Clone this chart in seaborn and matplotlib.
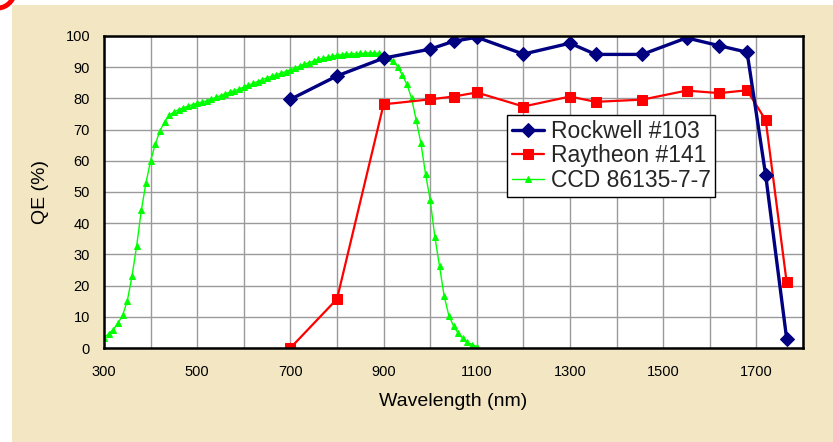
import numpy as np
import pandas as pd
import matplotlib
matplotlib.use("Agg")
import matplotlib.pyplot as plt
from matplotlib.patches import Rectangle, Arc
import seaborn as sns

# ---------------- data ----------------
rockwell_wl = [700, 800, 900, 1000, 1050, 1100, 1200, 1300, 1355, 1455, 1550, 1620, 1680, 1720, 1765]
rockwell_qe = [79.7, 87.2, 92.9, 95.8, 98.3, 99.6, 94.2, 97.7, 94.1, 94.1, 99.4, 96.9, 94.8, 55.3, 2.9]

raytheon_wl = [700, 800, 900, 1000, 1050, 1100, 1200, 1300, 1355, 1455, 1550, 1620, 1680, 1720, 1765]
raytheon_qe = [0.0, 15.7, 78.1, 79.7, 80.6, 81.9, 77.4, 80.6, 78.9, 79.6, 82.5, 81.7, 82.6, 73.0, 21.0]

ccd_wl = list(range(300, 1101, 10))
ccd_qe = [3.3, 4.6, 5.9, 8.0, 10.5, 15.1, 23.0, 32.6, 44.1, 52.9,
          60.0, 65.3, 69.6, 72.5, 74.6, 75.6, 76.4, 77.0, 77.5, 78.0,
          78.4, 78.8, 79.2, 79.7, 80.3, 80.9, 81.5, 82.0, 82.5, 83.0,
          83.6, 84.2, 84.8, 85.4, 86.0, 86.6, 87.1, 87.6, 88.1, 88.6,
          89.1, 89.7, 90.3, 90.9, 91.5, 92.0, 92.5, 92.9, 93.2, 93.5,
          93.8, 94.0, 94.2, 94.3, 94.3, 94.4, 94.5, 94.6, 94.5, 94.5,
          93.9, 93.1, 92.0, 90.2, 87.5, 84.5, 80.1, 73.0, 65.7, 55.8,
          47.4, 35.6, 26.2, 16.6, 10.4, 7.1, 4.7, 3.1, 1.8, 1.1, 0.4]

series_names = ["Rockwell #103", "Raytheon #141", "CCD 86135-7-7"]
x_tick_labels = [300, 500, 700, 900, 1100, 1300, 1500, 1700]
y_tick_labels = list(range(0, 101, 10))

# ---------------- figure ----------------
sns.set_theme(style="white")
plt.rcParams["font.family"] = ["Liberation Sans", "DejaVu Sans"]

W, H = 833, 442
fig = plt.figure(figsize=(W / 100, H / 100), dpi=100, facecolor="white")

# beige panel
fig.patches.append(Rectangle((12 / W, 0), 1 - 12 / W, 1 - 5 / H, transform=fig.transFigure,
                             facecolor="#F2E6C3", edgecolor="none", zorder=-10))
# decorative red arc at top-left corner
fig.patches.append(Arc((-2 / W, 1 + 14 / H), 36 / W, 44 / H, theta1=270, theta2=360,
                       transform=fig.transFigure, color="#FF0000", lw=3.5, zorder=-9))

ax = fig.add_axes([104 / W, 1 - 348 / H, (803 - 104) / W, (348 - 36) / H])
ax.set_facecolor("white")
ax.set_zorder(1)

sns.lineplot(x=rockwell_wl, y=rockwell_qe, ax=ax, color="#000080", lw=2.4, marker="D",
             markersize=7, markeredgecolor="#000080", sort=False, label=series_names[0], zorder=4)
sns.lineplot(x=raytheon_wl, y=raytheon_qe, ax=ax, color="#FF0000", lw=1.6, marker="s",
             markersize=7, markeredgecolor="#FF0000", sort=False, label=series_names[1], zorder=3)
sns.lineplot(x=ccd_wl, y=ccd_qe, ax=ax, color="#00FF00", lw=1.0, marker="^",
             markersize=5, markeredgecolor="#00FF00", sort=False, label=series_names[2], zorder=2)

ax.set_xlim(300, 1800)
ax.set_ylim(0, 100)
ax.set_xticks(x_tick_labels)
ax.set_xticks([400, 600, 800, 1000, 1200, 1400, 1600, 1800], minor=True)
ax.set_xticklabels([str(v) for v in x_tick_labels], fontsize=10.5)
ax.set_yticks(y_tick_labels)
ax.set_yticklabels([str(v) for v in y_tick_labels], fontsize=10.5)
ax.tick_params(axis="both", which="both", length=0, colors="black")
ax.tick_params(axis="x", pad=12)
ax.tick_params(axis="y", pad=10)
ax.grid(True, which="both", color="#9a9a9a", lw=1.0)
ax.set_axisbelow(True)
for s in ax.spines.values():
    s.set_visible(True)
    s.set_color("black")
    s.set_linewidth(1.8)
    s.set_zorder(6)

ax.set_xlabel("Wavelength (nm)", fontsize=14, labelpad=10, color="black")
ax.set_ylabel("QE (%)", fontsize=14, labelpad=12, color="black")

leg = ax.legend(loc="upper left", bbox_to_anchor=((507 - 104) / (803 - 104), 1 - (115 - 36) / (348 - 36)),
                fontsize=16.5, frameon=True, fancybox=False, shadow=False, borderpad=0.2,
                labelspacing=0.08, handlelength=1.4, handletextpad=0.3, borderaxespad=0.0)
leg.get_frame().set_edgecolor("black")
leg.get_frame().set_linewidth(1.0)
leg.get_frame().set_facecolor("white")
leg.get_frame().set_alpha(1.0)
leg.set_zorder(10)

fig.savefig("out.png", dpi=100, facecolor=fig.get_facecolor())
